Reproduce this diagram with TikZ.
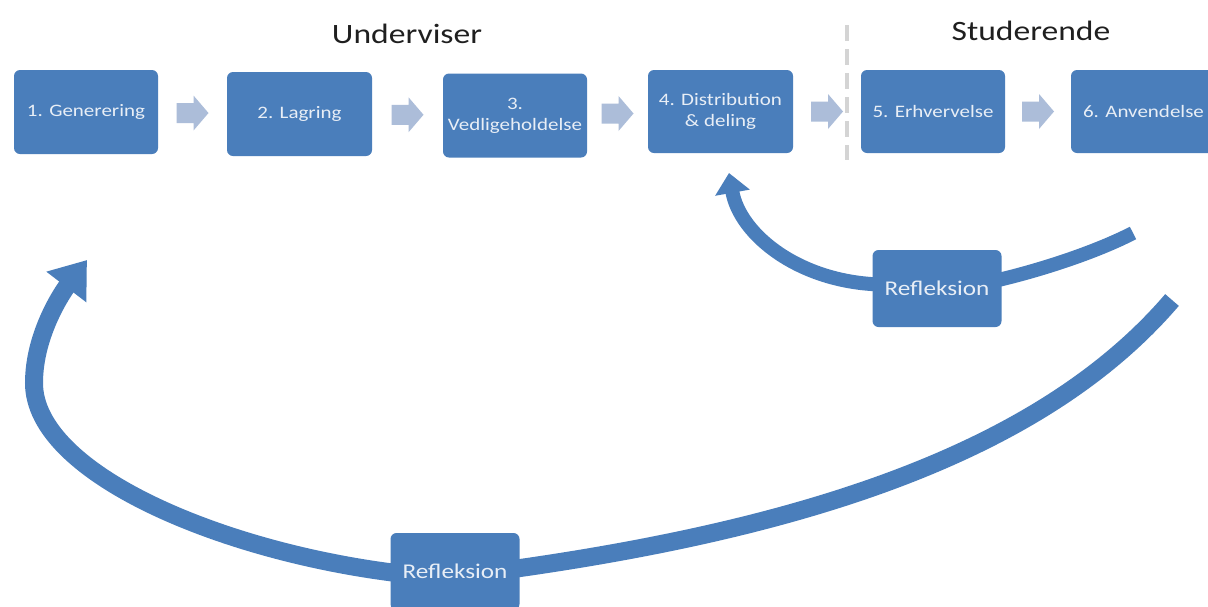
\documentclass[tikz,border=0pt]{standalone}
\usepackage{fontspec}
\setmainfont{Carlito}[FakeStretch=1.2]
\usetikzlibrary{arrows.meta,calc}
\definecolor{boxblue}{RGB}{74,126,187}
\definecolor{chevblue}{RGB}{172,189,217}
\definecolor{boxtext}{RGB}{232,238,246}
\definecolor{dashgrey}{RGB}{212,212,212}
\pgfdeclarelayer{back}
\pgfsetlayers{back,main}
\begin{document}
\begin{tikzpicture}[x=1pt,y=-1pt,
  stage/.style={fill=boxblue, rounded corners=6pt, text=boxtext, inner sep=0pt,
    align=center, font=\fontsize{17.5}{21}\selectfont, minimum height=84pt},
  refl/.style={stage, minimum width=129pt, minimum height=77pt,
    font=\fontsize{21}{25}\selectfont},
  heading/.style={font=\fontsize{28}{32}\selectfont, text=black!88, anchor=base, inner sep=0pt},
  fb/.style={draw=boxblue, line width=#1},
  chev/.pic={\fill[chevblue] (-16,-10) -- (1,-10) -- (1,-17.5) -- (16,0) -- (1,17.5) -- (1,10) -- (-16,10) -- cycle;}]
\useasboundingbox (0,0) rectangle (1208,606);
\clip (0,0) rectangle (1208,606);

% column headings
\node[heading] (tu) at (407,43) {Underviser};
\node[heading] (ts) at (1031,40) {Studerende};

% the six stages
\node[stage, minimum width=144pt] (s1) at (86,112) {1. Generering};
\node[stage, minimum width=145pt] (s2) at (299.5,114) {2. Lagring};
\node[stage, minimum width=144pt] (s3) at (515,115.5) {3.\\Vedligeholdelse};
\node[stage, minimum width=145pt, minimum height=83pt] (s4) at (720.5,111.5) {4. Distribution\\\& deling};
\node[stage, minimum width=144pt, minimum height=83pt] (s5) at (933,111.5) {5. Erhvervelse};
\node[stage, minimum width=145pt, minimum height=83pt] (s6) at (1143.5,111.5) {6. Anvendelse};

% block arrows between stages
\foreach \a/\b in {s1/s2,s2/s3,s3/s4,s4/s5,s5/s6}
  \path ($(\a.east)!0.5!(\b.west)$) pic {chev};

% divider between teacher and student
\coordinate (dtop) at (847,25);
\coordinate (dbot) at (847,160);
\draw[dashgrey, line width=4pt, dash pattern=on 16pt off 8pt] (dtop) -- (dbot);

% reflection boxes
\node[refl] (r1) at (937,288.5) {Refleksion};
\node[refl] (r2) at (455,571.5) {Refleksion};

% feedback loops, drawn beneath the reflection boxes
\coordinate (u0) at (1133,233);
\coordinate (utip) at (729,173);
\coordinate (l0) at (1172,300);
\coordinate (lleft) at (34,383);
\coordinate (ltip) at (87,260);
\begin{pgfonlayer}{back}
  \fill[white] (0,0) rectangle (1208,606);
  % short loop: from application back to distribution
  \draw[fb=14pt] (u0) .. controls (1090,255) and (1030,273) .. ([xshift=-10pt,yshift=7pt]r1.east);
  \draw[fb=14pt, -{Triangle[length=20pt,width=34pt]}]
    ([xshift=10pt,yshift=4pt]r1.west) .. controls (800,283) and (740,235) .. (utip);
  % long loop: from application back to generation
  \draw[fb=18pt] (l0) .. controls (1042,452) and (806,528) .. ([xshift=-10pt,yshift=2pt]r2.east);
  \draw[fb=18pt, -{Triangle[length=34pt,width=48pt]}]
    ([xshift=10pt,yshift=-2pt]r2.west) .. controls (221,552) and (34,473) .. (lleft)
    .. controls (34,333) and (64,290) .. (ltip);
\end{pgfonlayer}
\end{tikzpicture}
\end{document}
